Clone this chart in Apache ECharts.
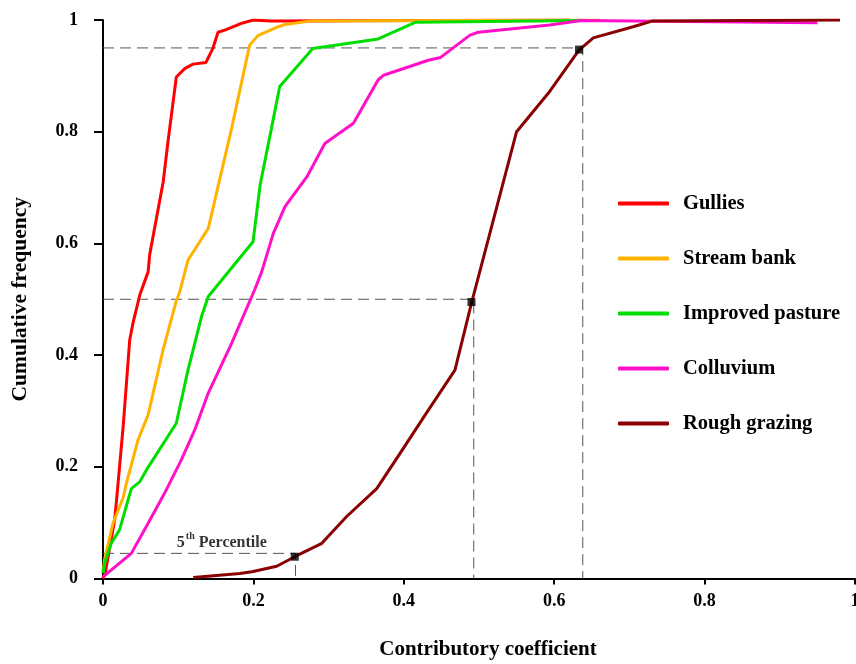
<!DOCTYPE html>
<html>
<head>
<meta charset="utf-8">
<script src="https://cdn.jsdelivr.net/npm/echarts@6/dist/echarts.min.js"></script>
<style>
  html, body { margin: 0; padding: 0; background: #fff; }
  #chart { width: 856px; height: 664px; }
</style>
</head>
<body>
<div id="chart"></div>
<script>
// Cumulative frequency curves of the contributory coefficient per source
const xTicks = [0, 0.2, 0.4, 0.6, 0.8, 1];
const yTicks = [0, 0.2, 0.4, 0.6, 0.8, 1];

const gulliesX = [0, 0.003, 0.0155, 0.018, 0.027, 0.0355, 0.04, 0.049, 0.06, 0.062, 0.08, 0.0864, 0.0975, 0.1086, 0.1197, 0.137, 0.146, 0.153, 0.162, 0.184, 0.2, 0.223, 0.62];
const gulliesY = [0, 0.01, 0.105, 0.14, 0.275, 0.427, 0.458, 0.508, 0.549, 0.579, 0.71, 0.782, 0.898, 0.913, 0.921, 0.924, 0.949, 0.978, 0.982, 0.994, 1.0, 0.998, 1.0];

const streamX = [0, 0.002, 0.0133, 0.027, 0.031, 0.0465, 0.06, 0.08, 0.097, 0.102, 0.113, 0.1286, 0.14, 0.171, 0.195, 0.206, 0.233, 0.242, 0.275, 0.66];
const streamY = [0.01, 0.033, 0.099, 0.146, 0.17, 0.248, 0.293, 0.41, 0.495, 0.513, 0.570, 0.603, 0.627, 0.806, 0.955, 0.972, 0.988, 0.992, 0.998, 1.0];

const pastureX = [0, 0.002, 0.011, 0.022, 0.0377, 0.0488, 0.0576, 0.0975, 0.113, 0.131, 0.14, 0.1995, 0.209, 0.224, 0.235, 0.279, 0.366, 0.416, 0.64];
const pastureY = [0.01, 0.027, 0.063, 0.087, 0.161, 0.173, 0.194, 0.278, 0.373, 0.469, 0.505, 0.603, 0.705, 0.806, 0.881, 0.949, 0.966, 0.996, 0.999];

const colluviumX = [0, 0.0377, 0.06, 0.082, 0.104, 0.122, 0.14, 0.171, 0.2017, 0.211, 0.2265, 0.242, 0.271, 0.295, 0.333, 0.366, 0.373, 0.4326, 0.449, 0.488, 0.499, 0.594, 0.636, 0.95];
const colluviumY = [0.003, 0.045, 0.099, 0.153, 0.212, 0.266, 0.332, 0.421, 0.517, 0.549, 0.618, 0.666, 0.719, 0.779, 0.815, 0.893, 0.901, 0.928, 0.933, 0.973, 0.978, 0.991, 0.999, 0.995];

const grazingX = [0.12, 0.182, 0.198, 0.231, 0.255, 0.291, 0.324, 0.364, 0.395, 0.43, 0.468, 0.49, 0.55, 0.594, 0.633, 0.652, 0.705, 0.73, 0.98];
const grazingY = [0.002, 0.009, 0.012, 0.022, 0.039, 0.063, 0.111, 0.161, 0.224, 0.296, 0.373, 0.493, 0.8, 0.872, 0.946, 0.968, 0.988, 0.998, 1.0];

// Percentile read-offs on the rough grazing curve
const pctLevels = [0.045, 0.5, 0.95];
const pctCoeffs = [0.256, 0.493, 0.638];
const pointX = [0.255, 0.49, 0.633];
const pointY = [0.039, 0.495, 0.947];
const pctLabelAt = [0.158, 0.045];

const names = ['Gullies', 'Stream bank', 'Improved pasture', 'Colluvium', 'Rough grazing'];
const colors = ['#ff0000', '#ffb300', '#00dd00', '#ff10c8', '#8b0000'];
const xs = [gulliesX, streamX, pastureX, colluviumX, grazingX];
const ys = [gulliesY, streamY, pastureY, colluviumY, grazingY];

const FONT = "'Liberation Serif', 'Times New Roman', serif";
const zip = (a, b) => a.map((v, i) => [v, b[i]]);

const series = [];
// dashed guide lines from each axis to the read-off point
pctLevels.forEach((lv, i) => {
  series.push({
    type: 'line', silent: true, showSymbol: false, z: 1,
    data: [[0, lv], [pctCoeffs[i], lv], [pctCoeffs[i], 0]],
    lineStyle: { color: '#555', width: 1, type: [11, 6] }
  });
});
names.forEach((n, i) => {
  series.push({
    name: n, type: 'line', showSymbol: false, smooth: false, z: 3 + i,
    data: zip(xs[i], ys[i]),
    lineStyle: { color: colors[i], width: 3 },
    itemStyle: { color: colors[i] }
  });
});
series.push({
  type: 'scatter', symbol: 'rect', symbolSize: 8, z: 10,
  data: zip(pointX, pointY),
  itemStyle: { color: '#000' }
});
series.push({
  type: 'scatter', symbolSize: 0, z: 10, silent: true,
  data: [pctLabelAt],
  label: {
    show: true, position: 'top', distance: 3,
    formatter: '{n|5}{s|th}{n| Percentile}',
    rich: {
      n: { fontFamily: FONT, fontWeight: 'bold', fontSize: 16, color: '#000', verticalAlign: 'bottom' },
      s: { fontFamily: FONT, fontWeight: 'bold', fontSize: 10, color: '#000', verticalAlign: 'bottom', padding: [0, 0, 9, 1] }
    }
  }
});

const chart = echarts.init(document.getElementById('chart'), null, { renderer: 'canvas' });
chart.setOption({
  backgroundColor: '#fff',
  animation: false,
  grid: { left: 103, right: 1, top: 20, bottom: 85.5, containLabel: false, outerBoundsMode: 'none' },
  legend: {
    orient: 'vertical', left: 618, top: 193, padding: 0,
    itemWidth: 51, itemHeight: 4, itemGap: 34,
    icon: 'roundRect',
    data: names,
    textStyle: { fontFamily: FONT, fontWeight: 'bold', fontSize: 20.5, color: '#000', lineHeight: 20, padding: [0, 0, 0, 9] }
  },
  xAxis: {
    type: 'value', min: xTicks[0], max: xTicks[xTicks.length - 1], interval: 0.2,
    name: 'Contributory coefficient', nameLocation: 'middle', nameGap: 61,
    nameTextStyle: { fontFamily: FONT, fontWeight: 'bold', fontSize: 21, color: '#000', padding: [0, 0, 0, 18] },
    axisLine: { show: true, onZero: false, lineStyle: { color: '#000', width: 2 } },
    axisTick: { show: true, inside: false, length: 6, lineStyle: { color: '#000', width: 2 } },
    axisLabel: { fontFamily: FONT, fontWeight: 'bold', fontSize: 18, color: '#000', margin: 14 },
    splitLine: { show: false }
  },
  yAxis: {
    type: 'value', min: yTicks[0], max: yTicks[yTicks.length - 1], interval: 0.2,
    name: 'Cumulative frequency', nameLocation: 'middle', nameGap: 72,
    nameTextStyle: { fontFamily: FONT, fontWeight: 'bold', fontSize: 21.5, color: '#000' },
    axisLine: { show: true, onZero: false, lineStyle: { color: '#000', width: 2 } },
    axisTick: { show: true, inside: false, length: 9, lineStyle: { color: '#000', width: 2 } },
    axisLabel: { fontFamily: FONT, fontWeight: 'bold', fontSize: 18, color: '#000', margin: 25 },
    splitLine: { show: false }
  },
  series: series
});
</script>
</body>
</html>
